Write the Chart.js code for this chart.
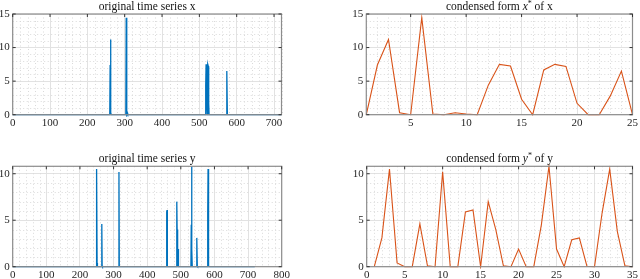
<!DOCTYPE html>
<html>
<head>
<meta charset="utf-8">
<script src="https://cdn.jsdelivr.net/npm/chart.js@4.4.0/dist/chart.umd.min.js"></script>
<style>
html, body { margin: 0; padding: 0; background: #fff; width: 640px; height: 279px; overflow: hidden; }
.cell { position: absolute; }
</style>
</head>
<body>
<div class="cell" style="left:0;top:0"><canvas id="c1" width="300" height="139"></canvas></div>
<div class="cell" style="left:340px;top:0"><canvas id="c2" width="300" height="139"></canvas></div>
<div class="cell" style="left:0;top:139px"><canvas id="c3" width="300" height="140"></canvas></div>
<div class="cell" style="left:340px;top:139px"><canvas id="c4" width="300" height="140"></canvas></div>
<script>
// original time series x (sample index, value); zero between the listed samples
var xTime  = [0, 260, 261, 262, 263, 264, 303, 304, 305, 306, 307, 308, 309,
              516, 517, 518, 519, 520, 521, 522, 523, 524, 525, 526, 572, 573, 574, 575, 720];
var xValue = [0, 0, 7.4, 11.2, 0.3, 0, 0, 14.45, 0.1, 0, 0.3, 0.1, 0,
              0, 4.4, 7.5, 7.25, 2.3, 0, 6.66, 7.5, 7.2, 1.7, 0, 0, 2.8, 6.5, 0, 0];

// original time series y
var yTime  = [0, 248, 249, 250, 251, 252, 264, 265, 266, 267, 315, 316, 317,
              457, 458, 459, 460, 487, 488, 489, 490, 491, 492, 493,
              530, 531, 532, 533, 534, 546, 547, 548, 549, 550,
              579, 580, 581, 582, 583, 584, 720];
var yValue = [0, 0, 3.1, 10.5, 0.4, 0, 0, 4.6, 0.1, 0, 0, 10.2, 0,
              0, 5.9, 6.1, 0, 0, 7.0, 4.0, 0.1, 0, 1.9, 0,
              0, 4.5, 10.8, 1.9, 0, 0, 2.9, 3.1, 0.05, 0,
              0, 5.8, 10.5, 3.8, 0.1, 0, 0];

// condensed forms x* and y*
var xCond = [0, 7.4, 11.2, 0.3, 0, 14.45, 0.1, 0, 0.3, 0.1, 0, 4.4, 7.5, 7.25, 2.3,
             0, 6.66, 7.5, 7.2, 1.7, 0, 0, 2.8, 6.5, 0];
var yCond = [0, 3.1, 10.5, 0.4, 0, 0, 4.6, 0.1, 0, 10.2, 0, 0, 5.9, 6.1, 0, 7.0, 4.0, 0.1,
             0, 1.9, 0, 0, 4.5, 10.8, 1.9, 0, 2.9, 3.1, 0.05, 0, 5.8, 10.5, 3.8, 0.1, 0];

// tick labels
var ticksOrigX = [0, 100, 200, 300, 400, 500, 600, 700];
var ticksOrigY = [0, 100, 200, 300, 400, 500, 600, 700, 800];
var ticksCondX = [5, 10, 15, 20, 25];
var ticksCondY = [0, 5, 10, 15, 20, 25, 30, 35];
var ticksVal15 = [0, 5, 10, 15];
var ticksVal10 = [0, 5, 10];

var BLUE = '#0072BD', ORANGE = '#D95319';
var SERIF = '"Liberation Serif", "DejaVu Serif", serif';

function pairs(t, v) {
  return t.map(function (tt, i) { return { x: tt, y: v[i] }; });
}
function indexed(v) {
  return v.map(function (vv, i) { return { x: i + 1, y: vv }; });
}
function range(a, b, s) {
  var out = [];
  for (var v = a; v <= b + 1e-9; v += s) out.push(v);
  return out;
}

function makeChart(id, pts, color, o) {
  var axesLook = {
    id: 'axesLook',
    beforeDatasetsDraw: function (chart) {
      var c = chart.ctx, a = chart.chartArea, sx = chart.scales.x, sy = chart.scales.y;
      c.save();
      c.strokeStyle = '#dadada';
      c.lineWidth = 1;
      c.setLineDash([1, 2.5]);
      range(o.xMin, o.xMax, o.minorX).forEach(function (v) {
        if (o.xTicks.indexOf(v) >= 0) return;
        var px = Math.round(sx.getPixelForValue(v)) + 0.5;
        c.beginPath(); c.moveTo(px, a.top); c.lineTo(px, a.bottom); c.stroke();
      });
      range(0, o.yMax, o.minorY).forEach(function (v) {
        if (o.yTicks.indexOf(v) >= 0) return;
        var py = Math.round(sy.getPixelForValue(v)) + 0.5;
        c.beginPath(); c.moveTo(a.left, py); c.lineTo(a.right, py); c.stroke();
      });
      c.restore();
    },
    afterDatasetsDraw: function (chart) {
      var c = chart.ctx, a = chart.chartArea, sx = chart.scales.x, sy = chart.scales.y;
      c.save();
      c.strokeStyle = '#8c8c8c';
      c.lineWidth = 1.2;
      c.strokeRect(a.left, a.top, a.right - a.left, a.bottom - a.top);
      c.strokeStyle = '#333';
      c.lineWidth = 1;
      o.xTicks.forEach(function (v) {
        var px = sx.getPixelForValue(v);
        c.beginPath(); c.moveTo(px, a.top); c.lineTo(px, a.top + 3); c.stroke();
      });
      o.yTicks.forEach(function (v) {
        var py = sy.getPixelForValue(v);
        c.beginPath(); c.moveTo(a.left, py); c.lineTo(a.left + 3, py);
        c.moveTo(a.right, py); c.lineTo(a.right - 3, py); c.stroke();
      });
      c.restore();
    },
    afterDraw: function (chart) {
      var c = chart.ctx, a = chart.chartArea;
      c.save();
      c.fillStyle = '#111';
      c.textBaseline = 'alphabetic';
      var total = 0;
      o.title.forEach(function (p) {
        c.font = (p.sup ? '8px ' : (p.it ? 'italic 11.5px ' : '11.5px ')) + SERIF;
        p.w = c.measureText(p.t).width;
        total += p.w;
      });
      var x = (a.left + a.right) / 2 - total / 2, base = a.top - 4;
      o.title.forEach(function (p) {
        c.font = (p.sup ? '8px ' : (p.it ? 'italic 11.5px ' : '11.5px ')) + SERIF;
        c.fillText(p.t, x, p.sup ? base - 4 : base);
        x += p.w;
      });
      c.restore();
    }
  };

  return new Chart(document.getElementById(id), {
    type: 'line',
    data: {
      datasets: [{
        data: pts,
        borderColor: color,
        borderWidth: o.lw,
        pointRadius: 0,
        tension: 0,
        fill: false,
        clip: 2
      }]
    },
    options: {
      responsive: false,
      animation: false,
      layout: { padding: o.pad },
      plugins: { legend: { display: false }, tooltip: { enabled: false } },
      scales: {
        x: {
          type: 'linear',
          min: o.xMin,
          max: o.xMax,
          afterBuildTicks: function (s) { s.ticks = o.xTicks.map(function (v) { return { value: v }; }); },
          afterFit: function (s) { s.height = o.xH; },
          ticks: { font: { family: SERIF, size: 11 }, color: '#262626', padding: 2, maxRotation: 0, autoSkip: false },
          grid: { color: '#e2e2e2', drawTicks: false },
          border: { display: false }
        },
        y: {
          min: 0,
          max: o.yMax,
          afterBuildTicks: function (s) { s.ticks = o.yTicks.map(function (v) { return { value: v }; }); },
          afterFit: function (s) { s.width = o.yW; },
          ticks: { font: { family: SERIF, size: 11 }, color: '#262626', padding: 3 },
          grid: { color: '#e2e2e2', drawTicks: false },
          border: { display: false }
        }
      }
    },
    plugins: [axesLook]
  });
}

makeChart('c1', pairs(xTime, xValue), BLUE, {
  xMin: 0, xMax: 720, yMax: 15, xTicks: ticksOrigX, yTicks: ticksVal15,
  minorX: 20, minorY: 1, lw: 1.3, xH: 24.3, yW: 12.7,
  pad: { top: 14, right: 18.5, left: 0, bottom: 0 },
  title: [{ t: 'original time series x' }]
});
makeChart('c2', indexed(xCond), ORANGE, {
  xMin: 1, xMax: 25, yMax: 15, xTicks: ticksCondX, yTicks: ticksVal15,
  minorX: 1, minorY: 1, lw: 1.1, xH: 24.3, yW: 26.3,
  pad: { top: 14, right: 5, left: 0, bottom: 0 },
  title: [{ t: 'condensed form ' }, { t: 'x', it: true }, { t: '*', sup: true }, { t: ' of x' }]
});
makeChart('c3', pairs(yTime, yValue), BLUE, {
  xMin: 0, xMax: 800, yMax: 10.8, xTicks: ticksOrigY, yTicks: ticksVal10,
  minorX: 20, minorY: 1, lw: 1.3, xH: 12.3, yW: 12.7,
  pad: { top: 27.3, right: 18.3, left: 0, bottom: 0 },
  title: [{ t: 'original time series y' }]
});
makeChart('c4', indexed(yCond), ORANGE, {
  xMin: 0, xMax: 35, yMax: 10.8, xTicks: ticksCondY, yTicks: ticksVal10,
  minorX: 1, minorY: 1, lw: 1.1, xH: 12.3, yW: 26.7,
  pad: { top: 27.3, right: 5, left: 0, bottom: 0 },
  title: [{ t: 'condensed form ' }, { t: 'y', it: true }, { t: '*', sup: true }, { t: ' of y' }]
});
</script>
</body>
</html>
